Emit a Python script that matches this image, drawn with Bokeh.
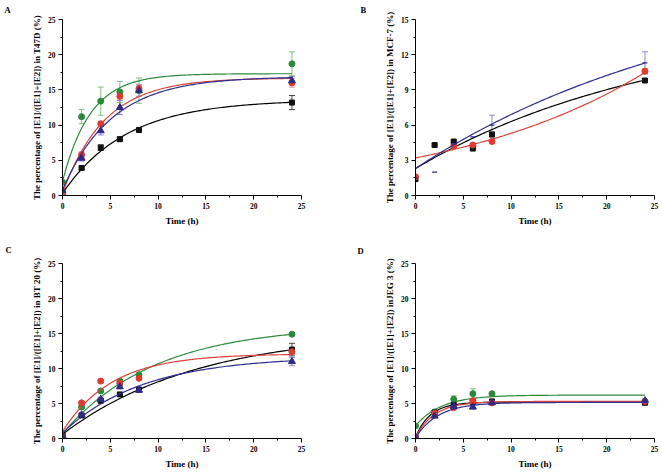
import numpy as np
from bokeh.plotting import figure
from bokeh.layouts import gridplot
from bokeh.models import ColumnDataSource, Whisker, TeeHead, Title, FixedTicker, Range1d
from bokeh.embed import file_html
from bokeh.resources import INLINE

time_h = [0, 2, 4, 6, 8, 24]
x_ticks = [0, 5, 10, 15, 20, 25]
x_minor = [2.5, 7.5, 12.5, 17.5, 22.5]
y_ticks_25 = [0, 5, 10, 15, 20, 25]
y_minor_25 = [2.5, 7.5, 12.5, 17.5, 22.5]
y_ticks_15 = [0, 3, 6, 9, 12, 15]
y_minor_15 = [1.5, 4.5, 7.5, 10.5, 13.5]

# ---- Panel A: T47D ----
a_black = [0.5, 3.9, 6.8, 8.0, 9.3, 13.2]
a_black_err = [0, 0.2, 0.4, 0.3, 0.2, 1.0]
a_red = [0.1, 5.8, 10.2, 14.1, 15.2, 16.0]
a_red_err = [0, 0.4, 0.3, 0.4, 0.6, 0.6]
a_blue = [0.7, 5.3, 9.2, 12.5, 14.9, 16.3]
a_blue_err = [0, 0.4, 0.6, 1.0, 0.8, 0.6]
a_green = [1.9, 11.2, 13.4, 14.7, 14.9, 18.7]
a_green_err = [0, 1.0, 2.0, 1.5, 1.8, 1.7]
# fitted curve parameters [start, amplitude, rate]
a_fit_black = [0.3, 13.3, 0.15]
a_fit_red = [0.3, 16.4, 0.228]
a_fit_blue = [0.8, 16.1, 0.194]
a_fit_green = [2.0, 15.3, 0.34]

# ---- Panel B: MCF-7 ----
b_black = [1.4, 4.3, 4.6, 4.0, 5.2, 9.8]
b_black_err = [0, 0.1, 0.1, 0.1, 0.2, 0.1]
b_red = [1.6, float("nan"), 4.2, 4.3, 4.6, 10.6]
b_red_err = [0, 0, 0.1, 0.1, 0.1, 0.2]
b_blue = [1.5, 2.0, 4.4, 5.0, 6.0, 11.3]
b_blue_err = [0, 0, 0, 0, 0.85, 0.95]
b_fit_black = [2.3, 12.4, 0.039]
b_fit_red = [3.2, 3.54, 0.0466]   # growth-type fit
b_fit_blue = [2.3, 16.7, 0.0322]

# ---- Panel C: BT 20 ----
c_black = [0.5, 3.3, 5.4, 6.3, 7.0, 12.7]
c_black_err = [0, 0.2, 0.3, 0.2, 0.3, 0.9]
c_red = [0.3, 5.1, 8.2, 7.9, 8.6, 12.4]
c_red_err = [0, 0.2, 0.2, 0.3, 0.2, 0.4]
c_blue = [0.4, 3.4, 5.6, 7.4, 6.9, 11.0]
c_blue_err = [0, 0.2, 0.3, 0.3, 0.3, 0.6]
c_green = [0.5, 4.5, 6.8, 8.2, 9.1, 14.9]
c_green_err = [0, 0.2, 0.2, 0.2, 0.2, 0.2]
c_fit_black = [0.6, 14.8, 0.0707]
c_fit_red = [1.0, 11.1, 0.194]
c_fit_blue = [0.8, 10.93, 0.119]
c_fit_green = [0.7, 15.5, 0.103]

# ---- Panel D: JEG 3 ----
d_black = [0.2, 3.7, 4.8, 5.2, 5.3, 5.1]
d_black_err = [0, 0.2, 0.1, 0.2, 0.2, 0.2]
d_red = [0.2, 3.6, 4.4, 5.4, 5.1, 5.3]
d_red_err = [0, 0.2, 0.1, 0.2, 0.1, 0.2]
d_blue = [0.1, 3.2, 4.6, 4.5, 5.1, 5.4]
d_blue_err = [0, 0.2, 0.2, 0.3, 0.2, 0.2]
d_green = [1.8, 3.8, 5.6, 6.4, 6.4, 5.3]
d_green_err = [0, 0.2, 0.5, 0.7, 0.2, 0.2]
d_fit_black = [0.2, 5.0, 0.636]
d_fit_red = [0.2, 5.1, 0.5]
d_fit_blue = [0.1, 5.05, 0.42]
d_fit_green = [1.8, 4.4, 0.371]

FONT = "Liberation Serif"
COL = {
    "black": ("#111111", "#444444", "#000000"),
    "red": ("#e0392e", "#e88a84", "#d9433a"),
    "blue": ("#2e2a86", "#8a86c8", "#2f2f8f"),
    "green": ("#2a8a3c", "#80c080", "#2e8b3e"),
}
MARK = {"black": ("square", 5), "red": ("circle", 6), "blue": ("triangle", 7), "green": ("circle", 6)}

t_curve = np.linspace(0, 24, 121)


def fit_curve(params, growth=False):
    y0, amp, k = params
    if growth:
        return y0 + amp * (np.exp(k * t_curve) - 1)
    return y0 + amp * (1 - np.exp(-k * t_curve))


def make_panel(width, height, bl, br, bt, bb, ymax, yt, ym, ylabel, letter, loff, lstand):
    p = figure(width=width, height=height, output_backend="svg", toolbar_location=None,
               x_range=Range1d(0, 25), y_range=Range1d(0, ymax),
               min_border_left=bl, min_border_right=br, min_border_top=bt, min_border_bottom=bb)
    p.xgrid.visible = False
    p.ygrid.visible = False
    p.outline_line_color = None
    p.background_fill_color = "white"
    p.border_fill_color = "white"
    p.xaxis.ticker = FixedTicker(ticks=x_ticks, minor_ticks=x_minor)
    p.yaxis.ticker = FixedTicker(ticks=yt, minor_ticks=ym)
    p.xaxis.axis_label = "Time (h)"
    p.yaxis.axis_label = ylabel
    for ax in (p.xaxis, p.yaxis):
        ax.axis_line_color = "black"
        ax.axis_line_width = 1
        ax.major_tick_out = 4
        ax.major_tick_in = 0
        ax.minor_tick_out = 2
        ax.minor_tick_in = 0
        ax.major_tick_line_color = "black"
        ax.minor_tick_line_color = "black"
        ax.major_label_text_font = FONT
        ax.major_label_text_font_style = "bold"
        ax.major_label_text_font_size = "7.5px"
        ax.major_label_text_color = "black"
        ax.axis_label_text_font = FONT
        ax.axis_label_text_font_style = "bold"
        ax.axis_label_text_font_size = "9px"
        ax.axis_label_text_color = "black"
    p.xaxis.major_label_standoff = 3
    p.yaxis.major_label_standoff = 3
    p.xaxis.axis_label_standoff = 4
    p.yaxis.axis_label_standoff = 3
    # panel letter as a left-aligned title shifted to the left of the frame
    p.add_layout(Title(text=letter, align="left", offset=loff, standoff=lstand,
                       vertical_align="top",
                       text_font=FONT, text_font_style="bold", text_font_size="8.5px",
                       text_color="black"), "above")
    return p


def add_series(p, name, vals, errs, fit, growth=False, marker=None):
    mcol, ecol, lcol = COL[name]
    mk, sz = MARK[name]
    if marker is not None:
        mk = marker
    xs = [t for t, e in zip(time_h, errs) if e > 0]
    ys = [v for v, e in zip(vals, errs) if e > 0]
    es = [e for e in errs if e > 0]
    if xs:
        src = ColumnDataSource(dict(base=xs, lower=[y - e for y, e in zip(ys, es)],
                                    upper=[y + e for y, e in zip(ys, es)]))
        w = Whisker(source=src, base="base", lower="lower", upper="upper",
                    line_color=ecol, line_width=1,
                    upper_head=TeeHead(size=6, line_color=ecol, line_width=1),
                    lower_head=TeeHead(size=6, line_color=ecol, line_width=1))
        p.add_layout(w)
    p.line(t_curve, fit_curve(fit, growth), line_color=lcol, line_width=1.2)
    if mk == "dash":
        p.scatter(time_h, vals, marker="dash", size=5, line_color=mcol, line_width=1.2)
    else:
        p.scatter(time_h, vals, marker=mk, size=sz, fill_color=mcol, line_color=mcol)


# geometry (figure pixels); page origin at top-left
pA = make_panel(331, 236, 62, 28, 19, 41, 25, y_ticks_25, y_minor_25,
                "The percentage of [E1]/([E1]+[E2]) in T47D (%)", "A", -58, 5)
add_series(pA, "green", a_green, a_green_err, a_fit_green)
add_series(pA, "black", a_black, a_black_err, a_fit_black)
add_series(pA, "red", a_red, a_red_err, a_fit_red)
add_series(pA, "blue", a_blue, a_blue_err, a_fit_blue)

pB = make_panel(331, 236, 82, 8, 19, 41, 15, y_ticks_15, y_minor_15,
                "The percentage of [E1]/([E1]+[E2]) in MCF-7 (%)", "B", -55, 6)
add_series(pB, "black", b_black, b_black_err, b_fit_black)
add_series(pB, "red", b_red, b_red_err, b_fit_red, growth=True)
add_series(pB, "blue", b_blue, b_blue_err, b_fit_blue, marker="dash")

pC = make_panel(331, 237, 60, 30, 26, 35, 25, y_ticks_25, y_minor_25,
                "The percentage of [E1]/([E1]+[E2]) in BT 20 (%)", "C", -57, 14)
add_series(pC, "green", c_green, c_green_err, c_fit_green)
add_series(pC, "black", c_black, c_black_err, c_fit_black)
add_series(pC, "red", c_red, c_red_err, c_fit_red)
add_series(pC, "blue", c_blue, c_blue_err, c_fit_blue)

pD = make_panel(331, 237, 84, 8, 27, 34, 25, y_ticks_25, y_minor_25,
                "The percentage of [E1]/([E1]+[E2]) inJEG 3 (%)", "D", -58, 12)
add_series(pD, "green", d_green, d_green_err, d_fit_green)
add_series(pD, "black", d_black, d_black_err, d_fit_black)
add_series(pD, "red", d_red, d_red_err, d_fit_red)
add_series(pD, "blue", d_blue, d_blue_err, d_fit_blue)

grid = gridplot([[pA, pB], [pC, pD]], toolbar_location=None)

open("out.html", "w").write(file_html(grid, INLINE))
